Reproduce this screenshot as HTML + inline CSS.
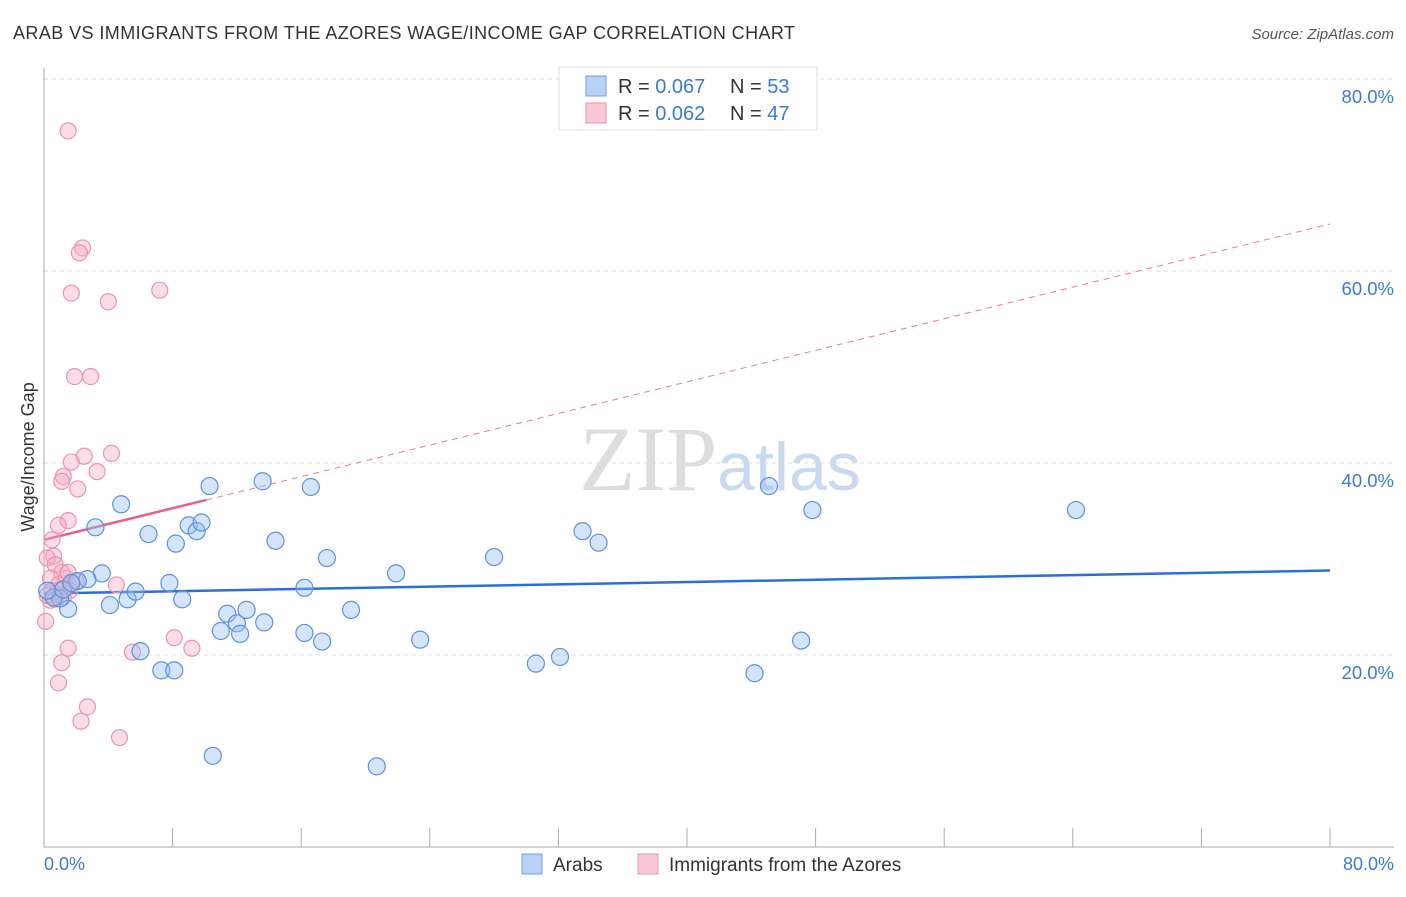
<!DOCTYPE html>
<html><head><meta charset="utf-8"><style>
body{margin:0;background:#fff;font-family:"Liberation Sans",sans-serif}
</style></head><body>
<svg width="1406" height="892" xmlns="http://www.w3.org/2000/svg" font-family="Liberation Sans, sans-serif">
<text x="13" y="39" font-size="18" fill="#333" textLength="782">ARAB VS IMMIGRANTS FROM THE AZORES WAGE/INCOME GAP CORRELATION CHART</text>
<text x="1394" y="39" font-size="15" fill="#555" text-anchor="end" font-style="italic">Source: ZipAtlas.com</text>
<text x="720" y="490" font-size="92" text-anchor="middle" font-family="Liberation Serif, serif"><tspan fill="#ddd">ZIP</tspan><tspan fill="#c9d9ef" font-family="Liberation Sans, sans-serif" font-size="68">atlas</tspan></text>
<g id="grid"></g>
<line x1="44" y1="68" x2="44" y2="847" stroke="#aaa"/>
<line x1="44" y1="847" x2="1394" y2="847" stroke="#aaa"/>
<g id="ticks"></g>
<text transform="translate(34,457) rotate(-90)" font-size="18" fill="#333" text-anchor="middle">Wage/Income Gap</text>
<text x="44" y="870" font-size="18" fill="#3a7bd5">0.0%</text>
<text x="1394" y="870" font-size="18" fill="#3a7bd5" text-anchor="end">80.0%</text>
<g id="lines"></g>
<g id="pts"></g>
<g>
<rect x="559" y="67" width="258" height="63" fill="#fff" stroke="#ddd"/>
<rect x="586" y="76" width="20" height="20" fill="#b8d2f5" stroke="#6f9fe0"/>
<rect x="586" y="103" width="20" height="20" fill="#f9c8d6" stroke="#ec93ad"/>
<text x="618" y="93" font-size="20" fill="#333">R = <tspan fill="#3a7bd5">0.067</tspan></text>
<text x="730" y="93" font-size="20" fill="#333">N = <tspan fill="#3a7bd5">53</tspan></text>
<text x="618" y="120" font-size="20" fill="#333">R = <tspan fill="#3a7bd5">0.062</tspan></text>
<text x="730" y="120" font-size="20" fill="#333">N = <tspan fill="#3a7bd5">47</tspan></text>
</g>
<g>
<rect x="522" y="854" width="20" height="20" fill="#b8d2f5" stroke="#6f9fe0"/>
<text x="553" y="871" font-size="19" fill="#333">Arabs</text>
<rect x="638" y="854" width="20" height="20" fill="#f9c8d6" stroke="#ec93ad"/>
<text x="669" y="871" font-size="19" fill="#333">Immigrants from the Azores</text>
</g>
</svg>
<script>
const yTicks=[20,40,60,80];
const yTickLabels=["20.0%","40.0%","60.0%","80.0%"];
const xTicks=[0,8,16,24,32,40,48,56,64,72,80];
const arabX=[3.2,4.8,6.5,8.2,9.0,9.5,9.8,10.3,13.6,16.6,14.4,17.6,21.9,28.0,33.5,34.5,45.1,47.8,64.2,3.6,2.7,2.1,4.1,5.2,5.7,7.8,8.6,11.4,12.0,12.6,11.0,12.2,13.7,16.2,19.1,16.2,17.3,23.4,6.0,7.3,8.1,30.6,32.1,47.1,44.2,10.5,20.7,1.5,1.0,0.6,0.2,1.2,1.7];
const arabY=[33.3,35.7,32.6,31.6,33.5,32.9,33.8,37.6,38.1,37.5,31.9,30.1,28.5,30.2,32.9,31.7,37.6,35.1,35.1,28.5,27.9,27.7,25.2,25.8,26.6,27.5,25.8,24.3,23.3,24.7,22.5,22.2,23.4,27.0,24.7,22.3,21.4,21.6,20.4,18.4,18.4,19.1,19.8,21.5,18.1,9.5,8.4,24.8,25.9,26.0,26.7,26.8,27.5];
const azX=[1.5,2.4,2.2,1.7,4.0,7.2,1.9,2.9,4.2,2.5,1.7,3.3,1.2,1.1,2.1,1.5,0.9,0.5,0.6,0.2,0.7,1.1,1.4,0.4,0.9,1.7,0.5,1.0,1.6,0.4,0.1,4.5,1.5,8.1,9.2,5.5,1.1,0.9,2.7,2.3,4.7,0.7,1.2,0.2,1.5,2.0,1.1];
const azY=[74.6,62.4,61.9,57.7,56.8,58.0,49.0,49.0,41.0,40.7,40.1,39.1,38.6,38.1,37.3,34.0,33.5,32.0,30.3,30.1,29.4,28.6,28.0,28.0,27.3,27.5,26.7,26.2,26.7,25.7,23.5,27.3,20.7,21.8,20.7,20.3,19.2,17.1,14.6,13.1,11.4,25.8,26.0,26.2,28.6,27.7,26.9];
const arabTrend=[26.4,28.8];
const azTrend=[32.0,64.9];
const NS="http://www.w3.org/2000/svg";
const X=v=>44+v*16.075, Y=v=>847-v*9.6;
function mk(t,a,p){const e=document.createElementNS(NS,t);for(const k in a)e.setAttribute(k,a[k]);document.getElementById(p).appendChild(e);return e;}
yTicks.forEach((t,i)=>{
 const g=mk('line',{x1:44,x2:1394,y1:Y(t),y2:Y(t),stroke:'#ddd','stroke-dasharray':'4,4'},'grid');
 
 
 const l=mk('text',{x:1394,y:Y(t)+24,'font-size':18.5,fill:'#3a7bd5','text-anchor':'end'},'ticks');
 l.textContent=yTickLabels[i];
 
 
});
xTicks.forEach(t=>{
 const l=mk('line',{x1:X(t),x2:X(t),y1:828,y2:847,stroke:'#aaa'},'ticks');
 
 
});
let a=mk('line',{x1:X(0),y1:Y(arabTrend[0]),x2:X(80),y2:Y(arabTrend[1]),stroke:'#2a6fd6','stroke-width':2.5},'lines');


const az=v=>azTrend[0]+(azTrend[1]-azTrend[0])*v/80;
let b=mk('line',{x1:X(10.1),y1:Y(az(10.1)),x2:X(80),y2:Y(az(80)),stroke:'#e8789c','stroke-width':1,'stroke-dasharray':'6,5'},'lines');


let c=mk('line',{x1:X(0),y1:Y(az(0)),x2:X(10.1),y2:Y(az(10.1)),stroke:'#e8608a','stroke-width':2.5},'lines');


azX.forEach((x,i)=>{
 const p=mk('circle',{cx:X(x),cy:Y(azY[i]),r:8,fill:'rgba(246,170,195,0.4)',stroke:'#ec93ad','stroke-width':1.2},'pts');
 
 
});
arabX.forEach((x,i)=>{
 const p=mk('circle',{cx:X(x),cy:Y(arabY[i]),r:8.5,fill:'rgba(150,190,240,0.4)',stroke:'#5b92e0','stroke-width':1.2},'pts');
 
 
});
</script>
</body></html>
